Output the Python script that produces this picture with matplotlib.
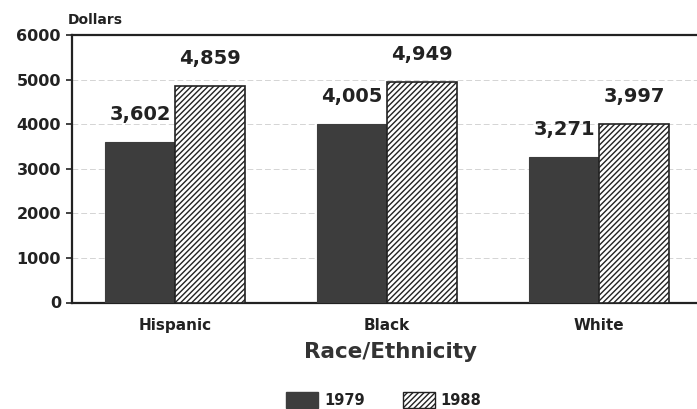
import matplotlib
matplotlib.use("Agg")
import matplotlib.pyplot as plt
from matplotlib.patches import Patch
import numpy as np

plt.rcParams['font.family'] = ['DejaVu Sans']
plt.rcParams['hatch.linewidth'] = 1.0

categories = ["Hispanic", "Black", "White"]
years = ["1979", "1988"]
values_1979 = [3602, 4005, 3271]
values_1988 = [4859, 4949, 3997]
y_ticks = [0, 1000, 2000, 3000, 4000, 5000, 6000]

dark = "#3d3d3d"
ink = "#222222"

fig = plt.figure(figsize=(6.97, 4.09), dpi=100)
ax = fig.add_axes([72 / 697, 1 - 302.5 / 409, 1 - 72 / 697, (302.5 - 35) / 409])

x = np.arange(len(categories))
w = 0.33

bars_a = ax.bar(x - w / 2, values_1979, width=w, color=dark, edgecolor=dark, linewidth=0.8, zorder=3)
bars_b = ax.bar(x + w / 2, values_1988, width=w, color="white", edgecolor=ink, hatch="//////",
                linewidth=1.2, zorder=3)

for bars, vals in ((bars_a, values_1979), (bars_b, values_1988)):
    for b, v in zip(bars, vals):
        ax.annotate(f"{v:,}", (b.get_x() + b.get_width() / 2, v), xytext=(0, 13),
                    textcoords="offset points", ha="center", va="bottom",
                    fontsize=14, fontweight="bold", color=ink)

ax.set_xlim(-0.486, 2.462)
ax.set_ylim(0, 6000)
ax.set_yticks(y_ticks)
ax.set_yticklabels([str(t) for t in y_ticks], fontsize=11.5, fontweight="bold", color=ink)
ax.set_xticks(x)
ax.set_xticklabels(categories, fontsize=11, fontweight="bold", color=ink)
ax.tick_params(axis="x", length=0, pad=11)
ax.tick_params(axis="y", length=4, width=1.2, pad=4, color=ink)

for t in y_ticks[1:-1]:
    ax.axhline(t, color="#d4d4d4", linewidth=0.7, linestyle=(0, (6, 3)), zorder=1)

for side in ("left", "top", "bottom"):
    ax.spines[side].set_linewidth(1.6)
    ax.spines[side].set_color(ink)
ax.spines["right"].set_visible(False)

fig.text(68 / 697, 1 - 20 / 409, "Dollars", fontsize=10, fontweight="bold", color=ink,
         ha="left", va="center")
fig.text(390 / 697, 1 - 352 / 409, "Race/Ethnicity", fontsize=15.5, fontweight="bold",
         color="#333333", ha="center", va="center")

handles = [Patch(facecolor=dark, edgecolor=dark, label=years[0]),
           Patch(facecolor="white", edgecolor=ink, hatch="//////", label=years[1])]
leg = fig.legend(handles=handles, loc="center", bbox_to_anchor=(384 / 697, 1 - 400 / 409),
                 ncol=2, frameon=False, handlelength=2.2, handleheight=1.25,
                 handletextpad=0.4, columnspacing=2.6,
                 prop={"size": 10.5, "weight": "bold"})
for t in leg.get_texts():
    t.set_color(ink)

fig.savefig("out.png", dpi=100)
